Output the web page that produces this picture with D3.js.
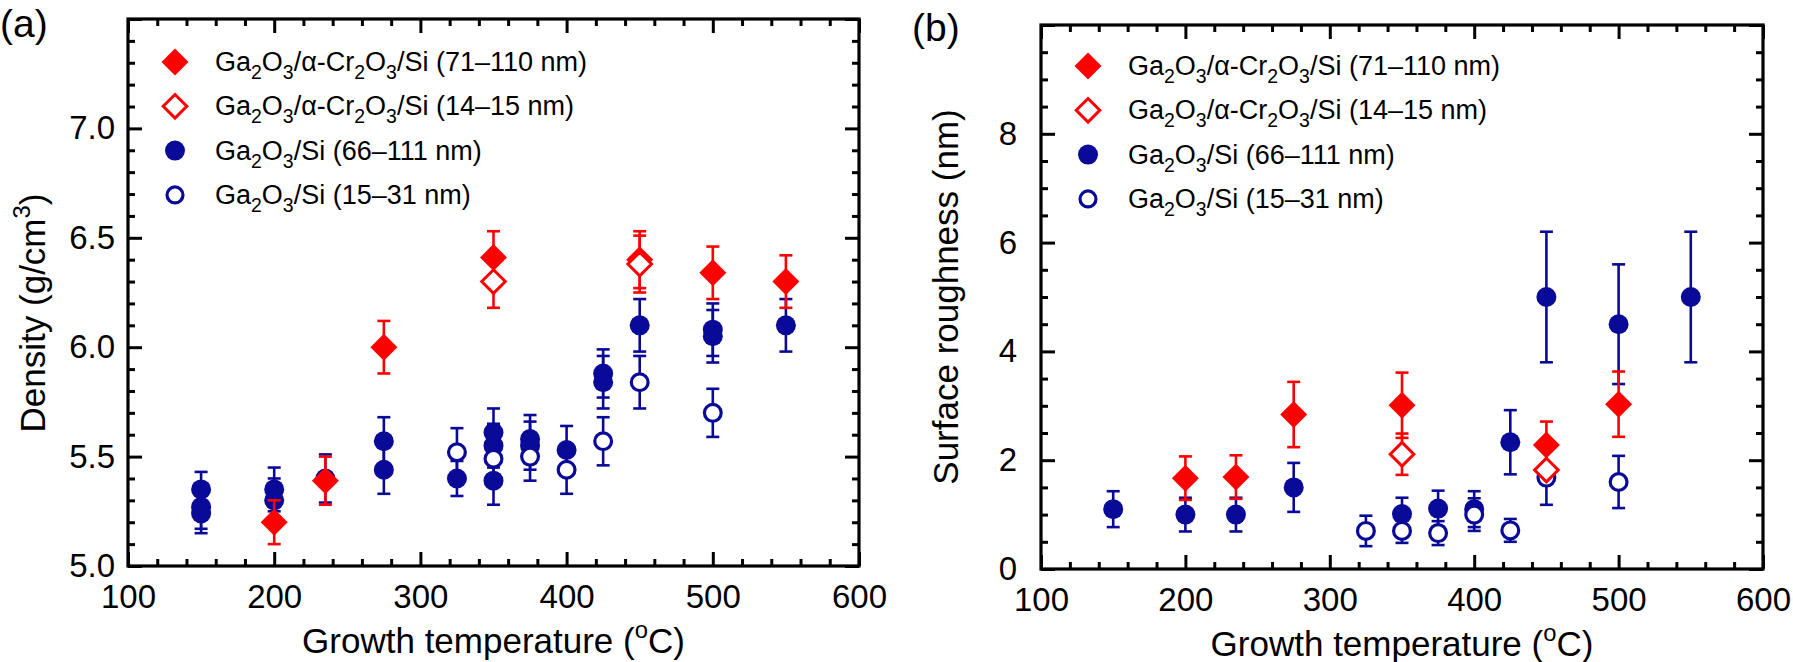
<!DOCTYPE html>
<html><head><meta charset="utf-8">
<script src="https://cdn.jsdelivr.net/npm/d3@7/dist/d3.min.js"></script>
<style>body{margin:0;background:#fff}svg{display:block}</style>
</head><body>
<svg id="chart" width="1793" height="662"></svg>
<script>
// ---------------- DATA ----------------
const xTicks = [100, 200, 300, 400, 500, 600];
const densityTicks = [5.0, 5.5, 6.0, 6.5, 7.0];
const roughTicks = [0, 2, 4, 6, 8];

const legendLabels = [
  [["Ga"],["2","sub"],["O"],["3","sub"],["/\u03b1-Cr"],["2","sub"],["O"],["3","sub"],["/Si (71\u2013110 nm)"]],
  [["Ga"],["2","sub"],["O"],["3","sub"],["/\u03b1-Cr"],["2","sub"],["O"],["3","sub"],["/Si (14\u201315 nm)"]],
  [["Ga"],["2","sub"],["O"],["3","sub"],["/Si (66\u2013111 nm)"]],
  [["Ga"],["2","sub"],["O"],["3","sub"],["/Si (15\u201331 nm)"]]
];
const xTitle = [["Growth temperature ("],["o","sup"],["C)"]];
const densityTitle = [["Density (g/cm"],["3","sup"],[")"]];
const roughTitle = [["Surface roughness (nm)"]];

// [temperature, value, error]
const densCrThick = [[200,5.20,0.10],[235,5.39,0.11],[275,6.00,0.12],[350,6.41,0.12],[450,6.40,0.13],[500,6.34,0.12],[550,6.30,0.12]];
const densCrThin  = [[350,6.30,0.12],[450,6.38,0.13]];
const densSiThick = [[150,5.35,0.08],[150,5.27,0.10],[150,5.24,0.09],[200,5.35,0.10],[200,5.30,0.10],[235,5.40,0.11],
                     [275,5.57,0.11],[275,5.44,0.11],[325,5.40,0.08],[350,5.61,0.11],[350,5.55,0.10],[350,5.39,0.11],
                     [375,5.58,0.11],[375,5.55,0.11],[400,5.53,0.11],[425,5.88,0.11],[425,5.84,0.12],[450,6.10,0.12],
                     [500,6.08,0.12],[500,6.05,0.12],[550,6.10,0.12]];
const densSiThin  = [[325,5.52,0.11],[350,5.49,0.11],[375,5.50,0.11],[400,5.44,0.11],[425,5.57,0.11],[450,5.84,0.12],[500,5.70,0.11]];

const roughCrThick = [[200,1.67,0.40],[235,1.69,0.40],[275,2.84,0.60],[350,3.01,0.60],[450,2.28,0.43],[500,3.03,0.60]];
const roughCrThin  = [[350,2.11,0.38],[450,1.82,0.10]];
const roughSiThick = [[150,1.10,0.33],[200,1.00,0.31],[235,1.00,0.31],[275,1.50,0.45],[350,1.01,0.30],[375,1.11,0.33],
                      [400,1.10,0.33],[425,2.33,0.59],[450,5.00,1.20],[500,4.50,1.10],[550,5.00,1.20]];
const roughSiThin  = [[325,0.70,0.28],[350,0.70,0.22],[375,0.66,0.22],[400,1.00,0.30],[425,0.71,0.21],[450,1.68,0.50],[500,1.60,0.48]];

// ---------------- STYLE / LAYOUT ----------------
const RED = "#ff0000", BLUE = "#0a0a98";
const FONT = "'Liberation Sans', Arial, Helvetica, sans-serif";
const svg = d3.select("#chart").style("font-family", FONT);

function rich(textSel, segs, size) {
  let cur = 0;
  segs.forEach(([t, k]) => {
    const target = k === "sub" ? size * 0.30 : k === "sup" ? -size * 0.42 : 0;
    const ts = textSel.append("tspan").text(t).attr("dy", target - cur);
    if (k) ts.attr("font-size", size * (k === "sub" ? 0.72 : 0.68));
    cur = target;
  });
}

const diamond = r => `M0,${-r}L${r},0L0,${r}L${-r},0Z`;

function drawMarker(g, type, x, y, s = 1) {
  if (type === "fd") g.append("path").attr("d", diamond(13.5 * s)).attr("transform", `translate(${x},${y})`).attr("fill", RED);
  else if (type === "od") g.append("path").attr("d", diamond(11.8 * s)).attr("transform", `translate(${x},${y})`).attr("fill", "#fff").attr("stroke", RED).attr("stroke-width", 3);
  else if (type === "fc") g.append("circle").attr("cx", x).attr("cy", y).attr("r", 10 * s).attr("fill", BLUE);
  else g.append("circle").attr("cx", x).attr("cy", y).attr("r", 8.4 * s).attr("fill", "#fff").attr("stroke", BLUE).attr("stroke-width", 3.2);
}

const panels = [
  { left: 128, right: 859, top: 19, bottom: 566, yDomain: [5.0, 7.5], yMajorStep: 0.5, yLabels: densityTicks, yMinorStep: 0.1,
    fmt: d3.format(".1f"), yPad: 13, yTitle: densityTitle, yTitleX: 45, yTitleY: 313, tag: "(a)", tagX: 0, tagY: 37,
    legX: 175, legY: 62,
    series: [densSiThick, densSiThin, densCrThick, densCrThin] },
  { left: 1041, right: 1763, top: 25, bottom: 569, yDomain: [0, 10], yMajorStep: 2, yLabels: roughTicks, yMinorStep: 0.5,
    fmt: d3.format("d"), yPad: 24, yTitle: roughTitle, yTitleX: 958, yTitleY: 297, tag: "(b)", tagX: 912, tagY: 41,
    legX: 1088, legY: 66,
    series: [roughSiThick, roughSiThin, roughCrThick, roughCrThin] }
];
const legendTypes = ["fd", "od", "fc", "oc"];

panels.forEach(p => {
  const x = d3.scaleLinear().domain([100, 600]).range([p.left, p.right]);
  const y = d3.scaleLinear().domain(p.yDomain).range([p.bottom, p.top]);
  const g = svg.append("g");

  const xMinor = d3.range(100, 601, 20).filter(v => v % 100 !== 0);
  const yMajAll = d3.range(p.yDomain[0], p.yDomain[1] + 1e-9, p.yMajorStep).map(v => +v.toFixed(2));
  const yMinor = d3.range(p.yDomain[0], p.yDomain[1] + 1e-9, p.yMinorStep).map(v => +v.toFixed(2))
    .filter(v => !yMajAll.some(m => Math.abs(m - v) < 1e-6));

  function styleAxis(sel) {
    sel.select(".domain").remove();
    sel.selectAll(".tick line").attr("stroke", "#000").attr("stroke-width", 3);
    sel.selectAll(".tick text").attr("font-size", 33).attr("fill", "#000").attr("font-family", FONT);
  }
  // bottom
  g.append("g").attr("transform", `translate(0,${p.bottom})`)
    .call(d3.axisBottom(x).tickValues(xTicks).tickSize(-14).tickPadding(19).tickFormat(d3.format("d"))).call(styleAxis);
  g.append("g").attr("transform", `translate(0,${p.bottom})`)
    .call(d3.axisBottom(x).tickValues(xMinor).tickSize(-7).tickFormat("")).call(styleAxis);
  // top
  g.append("g").attr("transform", `translate(0,${p.top})`)
    .call(d3.axisTop(x).tickValues(xTicks).tickSize(-14).tickFormat("")).call(styleAxis);
  g.append("g").attr("transform", `translate(0,${p.top})`)
    .call(d3.axisTop(x).tickValues(xMinor).tickSize(-7).tickFormat("")).call(styleAxis);
  // left
  g.append("g").attr("transform", `translate(${p.left},0)`)
    .call(d3.axisLeft(y).tickValues(yMajAll).tickSize(-14).tickPadding(p.yPad)
      .tickFormat(v => p.yLabels.some(m => Math.abs(m - v) < 1e-6) ? p.fmt(v) : "")).call(styleAxis);
  g.append("g").attr("transform", `translate(${p.left},0)`)
    .call(d3.axisLeft(y).tickValues(yMinor).tickSize(-7).tickFormat("")).call(styleAxis);
  // right
  g.append("g").attr("transform", `translate(${p.right},0)`)
    .call(d3.axisRight(y).tickValues(yMajAll).tickSize(-14).tickFormat("")).call(styleAxis);
  g.append("g").attr("transform", `translate(${p.right},0)`)
    .call(d3.axisRight(y).tickValues(yMinor).tickSize(-7).tickFormat("")).call(styleAxis);

  // frame
  g.append("rect").attr("x", p.left).attr("y", p.top).attr("width", p.right - p.left).attr("height", p.bottom - p.top)
    .attr("fill", "none").attr("stroke", "#000").attr("stroke-width", 3.2);

  // data
  const dg = g.append("g");
  const drawErr = (data, color) => data.forEach(([t, v, e]) => {
    const cx = x(t), y1 = y(v - e), y2 = y(v + e);
    dg.append("line").attr("x1", cx).attr("x2", cx).attr("y1", y1).attr("y2", y2).attr("stroke", color).attr("stroke-width", 2.6);
    [y1, y2].forEach(yy => dg.append("line").attr("x1", cx - 6.5).attr("x2", cx + 6.5).attr("y1", yy).attr("y2", yy)
      .attr("stroke", color).attr("stroke-width", 2.6));
  });
  const drawMarks = (data, type) => data.forEach(([t, v]) => drawMarker(dg, type, x(t), y(v)));
  const [sFc, sOc, sFd, sOd] = p.series;
  drawErr(sFc, BLUE); drawErr(sOc, BLUE);
  drawMarks(sFc, "fc"); drawMarks(sOc, "oc");
  drawErr(sFd, RED); drawErr(sOd, RED);
  drawMarks(sFd, "fd"); drawMarks(sOd, "od");

  // legend
  legendLabels.forEach((lab, i) => {
    const ly = p.legY + i * 44.3;
    drawMarker(g, legendTypes[i], p.legX, ly, i === 3 ? 0.95 : 1);
    const t = g.append("text").attr("x", p.legX + 40).attr("y", ly + 9).attr("font-size", 27).attr("fill", "#000");
    rich(t, lab, 27);
  });

  // titles
  const xt = g.append("text").attr("x", (p.left + p.right) / 2).attr("y", p.bottom + 87)
    .attr("text-anchor", "middle").attr("font-size", 35).attr("fill", "#000");
  rich(xt, xTitle, 35);
  const yt = g.append("text").attr("transform", `translate(${p.yTitleX},${p.yTitleY}) rotate(-90)`)
    .attr("text-anchor", "middle").attr("font-size", 35).attr("fill", "#000");
  rich(yt, p.yTitle, 35);
  g.append("text").attr("x", p.tagX).attr("y", p.tagY).attr("font-size", 39).attr("fill", "#000").text(p.tag);
});
</script>
</body></html>
